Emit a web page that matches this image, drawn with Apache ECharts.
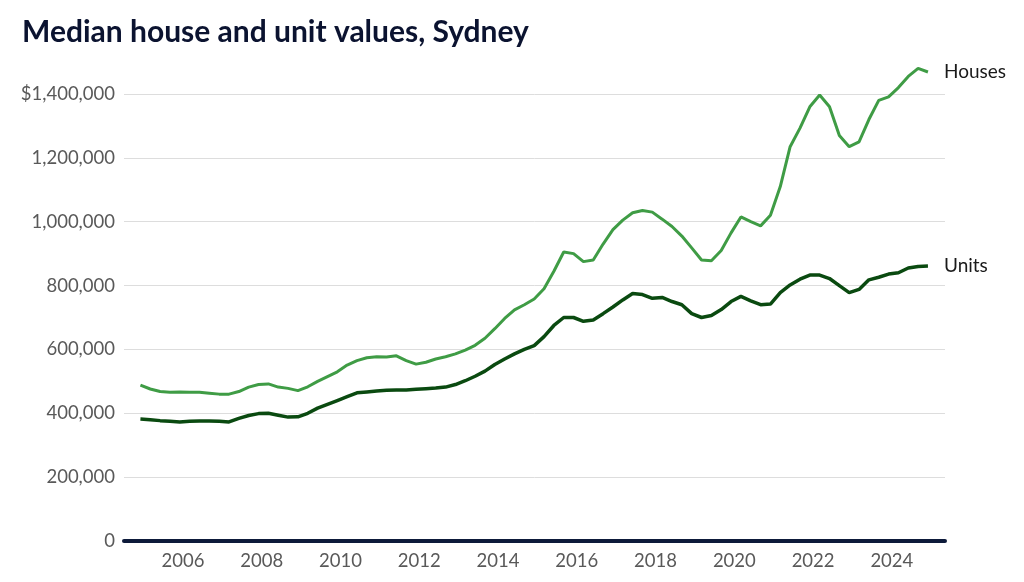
<!DOCTYPE html>
<html>
<head>
<meta charset="utf-8">
<script src="https://cdn.jsdelivr.net/npm/echarts@6/dist/echarts.min.js"></script>
<style>
html,body{margin:0;padding:0;background:#fff;}
#chart{width:1024px;height:582px;}
</style>
</head>
<body>
<div id="chart"></div>
<script>
// Quarterly observations, Dec 2004 to Dec 2024 (decimal years)
const startYear = 2004.917;
const quarterStep = 0.25;
const houses = [488000,476000,468000,466000,467000,466000,466000,463000,460000,460000,
  468000,482000,490000,492000,482000,478000,471000,483000,500000,515000,
  530000,551000,565000,574000,577000,576000,580000,565000,554000,560000,
  570000,577000,586000,598000,613000,635000,665000,697000,724000,740000,
  758000,790000,845000,905000,900000,875000,880000,930000,975000,1005000,
  1028000,1035000,1030000,1008000,985000,955000,918000,880000,878000,910000,
  965000,1015000,1000000,987000,1020000,1110000,1235000,1293000,1360000,1397000,
  1360000,1270000,1235000,1250000,1320000,1380000,1391000,1420000,1455000,1480000,1469000];
const units = [382000,380000,377000,375000,373000,375000,376000,376000,375000,373000,
  384000,393000,399000,400000,394000,388000,389000,400000,416000,428000,
  440000,452000,464000,467000,470000,472000,473000,473000,475000,477000,
  479000,482000,490000,502000,516000,532000,553000,570000,586000,600000,
  612000,640000,675000,700000,700000,688000,692000,712000,733000,755000,
  775000,772000,760000,763000,750000,740000,712000,700000,706000,725000,
  750000,766000,752000,740000,742000,778000,802000,820000,833000,833000,
  822000,800000,778000,788000,818000,826000,836000,840000,855000,860000,861000];
const seriesNames = ['Houses','Units'];
const yTicks = [0,200000,400000,600000,800000,1000000,1200000,1400000];
const xLabelYears = [2006,2008,2010,2012,2014,2016,2018,2020,2022,2024];

const dates = houses.map((_, i) => +(startYear + i * quarterStep).toFixed(3));
const pair = arr => arr.map((v, i) => [dates[i], v]);
const fmt = n => n.toString().replace(/\B(?=(\d{3})+(?!\d))/g, ',');

const chart = echarts.init(document.getElementById('chart'), null, {renderer:'canvas'});
chart.setOption({
  animation: false,
  backgroundColor: '#ffffff',
  title: {
    text: 'Median house and unit values, Sydney',
    left: 17, top: 12,
    textStyle: {fontFamily: 'Lato', fontWeight: 'bold', fontSize: 30, color: '#0b1330'}
  },
  grid: {left: 124, right: 79, top: 94, bottom: 41, containLabel: false},
  xAxis: {
    type: 'value',
    min: 2004.5, max: 2025.35, interval: 0.5,
    axisLine: {show: true, onZero: false, lineStyle: {color: '#0d1a3a', width: 4}},
    axisTick: {show: false},
    splitLine: {show: false},
    axisLabel: {
      fontFamily: 'Lato', fontSize: 18.5, color: '#595959', margin: 11,
      showMinLabel: false, showMaxLabel: false,
      formatter: v => {
        const r = Math.round(v);
        return (Math.abs(v - r) < 1e-6 && xLabelYears.indexOf(r) >= 0) ? String(r) : '';
      }
    }
  },
  yAxis: {
    type: 'value',
    min: yTicks[0], max: yTicks[yTicks.length - 1], interval: 200000,
    axisLine: {show: false},
    axisTick: {show: false},
    splitLine: {lineStyle: {color: '#dddddd', width: 1}},
    axisLabel: {
      fontFamily: 'Lato', fontSize: 18.5, color: '#595959', margin: 9,
      formatter: v => v === 1400000 ? '$' + fmt(v) : fmt(v)
    }
  },
  series: [
    {
      name: seriesNames[0], type: 'line', data: pair(houses), showSymbol: false, clip: false,
      lineStyle: {color: '#3f9c45', width: 3}, itemStyle: {color: '#3f9c45'},
      endLabel: {show: true, formatter: '{a}', distance: 16, fontFamily: 'Lato', fontSize: 19, color: '#1a1a1a'}
    },
    {
      name: seriesNames[1], type: 'line', data: pair(units), showSymbol: false, clip: false,
      lineStyle: {color: '#0a4a10', width: 3.5}, itemStyle: {color: '#0a4a10'},
      endLabel: {show: true, formatter: '{a}', distance: 16, fontFamily: 'Lato', fontSize: 19, color: '#1a1a1a'}
    }
  ]
});
</script>
</body>
</html>
